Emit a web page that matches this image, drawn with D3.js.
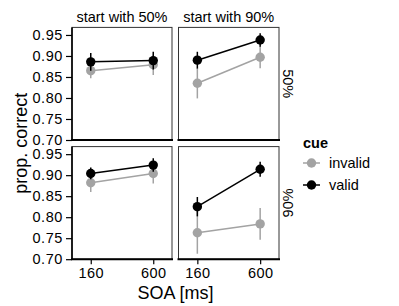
<!DOCTYPE html>
<html>
<head>
<meta charset="utf-8">
<script src="https://cdn.jsdelivr.net/npm/d3@7"></script>
<style>
  body { margin: 0; background: #fff; }
  text { font-family: "Liberation Sans", Arial, Helvetica, sans-serif; fill: #000; }
</style>
</head>
<body>
<div id="chart"></div>
<script>
// facet levels and x categories
var soaLevels = ["160", "600"];
var startLevels = ["start with 50%", "start with 90%"];
var cueLevels = ["50%", "90%"];
var yTicks = [0.70, 0.75, 0.80, 0.85, 0.90, 0.95];

// means per panel: [row cue][col start][soa]
var validMean = [
  [[0.886, 0.889], [0.890, 0.938]],
  [[0.904, 0.924], [0.825, 0.914]]
];
var validErr = [
  [[0.021, 0.021], [0.020, 0.016]],
  [[0.014, 0.016], [0.023, 0.018]]
];
var invalidMean = [
  [[0.865, 0.879], [0.835, 0.897]],
  [[0.882, 0.904], [0.763, 0.784]]
];
var invalidErr = [
  [[0.018, 0.024], [0.036, 0.026]],
  [[0.022, 0.024], [0.050, 0.038]]
];

var svgWidth = 399;
var svgHeight = 306;

var svg = d3.select("#chart")
  .append("svg")
  .attr("width", svgWidth)
  .attr("height", svgHeight);

// panel positions
var colX = [[72, 172], [178.5, 279]];
var rowY = [[27.4, 140], [146.6, 259.2]];

var grey = "#a3a3a3";

function drawSeries(g, x, y, means, errs, color) {
  var pts = soaLevels.map(function (s, i) { return { s: s, m: means[i], e: errs[i] }; });
  g.append("path")
    .datum(pts)
    .attr("fill", "none")
    .attr("stroke", color)
    .attr("stroke-width", 1.5)
    .attr("d", d3.line().x(d => x(d.s)).y(d => y(d.m)));
  g.selectAll(null)
    .data(pts)
    .enter()
    .append("line")
    .attr("x1", d => x(d.s))
    .attr("x2", d => x(d.s))
    .attr("y1", d => y(d.m - d.e))
    .attr("y2", d => y(d.m + d.e))
    .attr("stroke", color)
    .attr("stroke-width", 1.5);
  g.selectAll(null)
    .data(pts)
    .enter()
    .append("circle")
    .attr("cx", d => x(d.s))
    .attr("cy", d => y(d.m))
    .attr("r", 4.7)
    .attr("fill", color);
}

cueLevels.forEach(function (cue, r) {
  startLevels.forEach(function (start, c) {
    var x = d3.scalePoint().domain(soaLevels).range(colX[c]).padding(0.3);
    var y = d3.scaleLinear().domain([0.70, 0.968]).range([rowY[r][1], rowY[r][0]]);
    var g = svg.append("g");

    // panel frame
    g.append("rect")
      .attr("x", colX[c][0])
      .attr("y", rowY[r][0])
      .attr("width", colX[c][1] - colX[c][0])
      .attr("height", rowY[r][1] - rowY[r][0])
      .attr("fill", "#fff")
      .attr("stroke", "#333")
      .attr("stroke-width", 1);

    // bottom axis line on each panel
    g.append("line")
      .attr("x1", colX[c][0] - 1)
      .attr("x2", colX[c][1] + 1)
      .attr("y1", rowY[r][1])
      .attr("y2", rowY[r][1])
      .attr("stroke", "#000")
      .attr("stroke-width", 2);

    if (c === 0) {
      g.append("line")
        .attr("x1", colX[c][0])
        .attr("x2", colX[c][0])
        .attr("y1", rowY[r][0])
        .attr("y2", rowY[r][1])
        .attr("stroke", "#000")
        .attr("stroke-width", 1.6);
      var yAxis = g.append("g")
        .attr("transform", `translate(${colX[c][0]},0)`)
        .call(d3.axisLeft(y).tickValues(yTicks).tickFormat(d3.format(".2f")).tickSize(6).tickPadding(3));
      yAxis.select(".domain").remove();
      yAxis.selectAll(".tick line").attr("stroke", "#000").attr("stroke-width", 1.2);
      yAxis.selectAll(".tick text")
        .attr("font-size", "14.5px")
        .attr("letter-spacing", "0.6px")
        .attr("font-family", "Liberation Sans, Arial, sans-serif")
        .attr("fill", "#000");
    }

    if (r === 1) {
      var xAxis = g.append("g")
        .attr("transform", `translate(0,${rowY[r][1]})`)
        .call(d3.axisBottom(x).tickSize(5).tickPadding(4));
      xAxis.select(".domain").remove();
      xAxis.selectAll(".tick line").attr("stroke", "#000").attr("stroke-width", 1.2);
      xAxis.selectAll(".tick text")
        .attr("font-size", "14.5px")
        .attr("letter-spacing", "0.4px")
        .attr("font-family", "Liberation Sans, Arial, sans-serif")
        .attr("fill", "#000");
    }

    drawSeries(g, x, y, invalidMean[r][c], invalidErr[r][c], grey);
    drawSeries(g, x, y, validMean[r][c], validErr[r][c], "#000");

    if (r === 0) {
      svg.append("text")
        .attr("x", (colX[c][0] + colX[c][1]) / 2)
        .attr("y", 21.5)
        .attr("text-anchor", "middle")
        .attr("font-size", "14.5px")
        .text(start);
    }
  });

  // right strip labels
  var cy = (rowY[r][0] + rowY[r][1]) / 2;
  svg.append("text")
    .attr("transform", `translate(288,${cy}) rotate(${r === 0 ? 90 : -90})`)
    .attr("text-anchor", "middle")
    .attr("dy", "0.35em")
    .attr("font-size", "14.5px")
    .text(cue);
});

// axis titles
svg.append("text")
  .attr("transform", `translate(27,${(rowY[0][0] + rowY[1][1]) / 2}) rotate(-90)`)
  .attr("text-anchor", "middle")
  .attr("font-size", "18px")
  .text("prop. correct");

svg.append("text")
  .attr("x", (colX[0][0] + colX[1][1]) / 2)
  .attr("y", 299)
  .attr("text-anchor", "middle")
  .attr("font-size", "18px")
  .text("SOA [ms]");

// legend
var legend = svg.append("g");
legend.append("text")
  .attr("x", 303)
  .attr("y", 148)
  .attr("font-size", "14.5px")
  .attr("font-weight", "bold")
  .text("cue");

var legendItems = [
  { label: "invalid", color: grey },
  { label: "valid", color: "#000" }
];
legendItems.forEach(function (d, i) {
  var ky = 163 + i * 22;
  legend.append("line")
    .attr("x1", 303).attr("x2", 320)
    .attr("y1", ky).attr("y2", ky)
    .attr("stroke", d.color).attr("stroke-width", 1.5);
  legend.append("circle")
    .attr("cx", 311.5).attr("cy", ky).attr("r", 4.7)
    .attr("fill", d.color);
  legend.append("text")
    .attr("x", 329)
    .attr("y", ky)
    .attr("dy", "0.35em")
    .attr("font-size", "14.5px")
    .text(d.label);
});
</script>
</body>
</html>
